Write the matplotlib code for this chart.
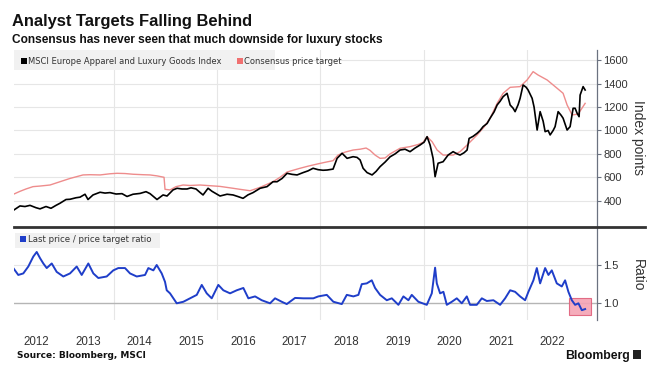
import matplotlib
matplotlib.use("Agg")
import matplotlib.pyplot as plt
from matplotlib.patches import Rectangle
from matplotlib import font_manager as fm

# ---------------- data ----------------
index_years = [2012.064, 2012.180, 2012.277, 2012.374, 2012.490, 2012.568, 2012.684, 2012.781,
               2012.878, 2012.955, 2013.072, 2013.149, 2013.266, 2013.343, 2013.440, 2013.498,
               2013.595, 2013.731, 2013.828, 2013.924, 2014.041, 2014.157, 2014.254, 2014.370,
               2014.506, 2014.622, 2014.700, 2014.835, 2014.952, 2015.029, 2015.145, 2015.223,
               2015.320, 2015.417, 2015.494, 2015.591, 2015.669, 2015.727, 2015.824, 2015.901,
               2016.056, 2016.192, 2016.308, 2016.405, 2016.502, 2016.599, 2016.696, 2016.832,
               2016.967, 2017.083, 2017.161, 2017.258, 2017.355, 2017.452, 2017.549, 2017.665,
               2017.762, 2017.859, 2017.956, 2018.052, 2018.130, 2018.246, 2018.324, 2018.421,
               2018.518, 2018.634, 2018.711, 2018.770, 2018.828, 2018.905, 2019.002, 2019.079,
               2019.157, 2019.254, 2019.351, 2019.448, 2019.545, 2019.641, 2019.738, 2019.835,
               2019.932, 2020.010, 2020.068, 2020.126, 2020.184, 2020.223, 2020.281, 2020.378,
               2020.475, 2020.572, 2020.649, 2020.707, 2020.785, 2020.843, 2020.882, 2020.959,
               2021.037, 2021.095, 2021.153, 2021.231, 2021.289, 2021.367, 2021.425, 2021.483,
               2021.541, 2021.618, 2021.677, 2021.735, 2021.773, 2021.831, 2021.870, 2021.928,
               2021.986, 2022.025, 2022.103, 2022.141, 2022.200, 2022.258, 2022.316, 2022.355,
               2022.413, 2022.452, 2022.510, 2022.548, 2022.607, 2022.665, 2022.703, 2022.781,
               2022.839, 2022.897, 2022.936, 2022.975, 2023.013, 2023.033, 2023.091, 2023.130]
index_values = [321, 355, 350, 360, 340, 330, 350, 335,
                360, 378, 410, 412, 425, 430, 455, 410,
                449, 472, 465, 469, 457, 460, 436, 455,
                462, 477, 460, 410, 449, 440, 492, 506,
                500, 500, 510, 500, 470, 449, 506, 480,
                440, 455, 449, 435, 420, 450, 469, 506,
                520, 562, 562, 590, 634, 625, 620, 640,
                655, 677, 665, 660, 662, 670, 762, 805,
                762, 776, 770, 748, 677, 640, 620, 650,
                691, 730, 775, 800, 833, 840, 819, 850,
                876, 900, 947, 876, 762, 605, 720, 733,
                790, 819, 800, 790, 810, 833, 932, 950,
                976, 1000, 1033, 1060, 1105, 1160, 1218, 1250,
                1289, 1318, 1218, 1190, 1161, 1220, 1275, 1389,
                1370, 1346, 1275, 1200, 1004, 1161, 1080, 990,
                1000, 962, 1000, 1033, 1161, 1130, 1105, 1004,
                1033, 1190, 1190, 1147, 1118, 1303, 1375, 1346]

target_years = [2012.064, 2012.180, 2012.296, 2012.432, 2012.568, 2012.762, 2012.955, 2013.149,
                2013.401, 2013.537, 2013.731, 2013.924, 2014.060, 2014.215, 2014.370, 2014.564,
                2014.700, 2014.835, 2014.971, 2014.990, 2015.087, 2015.204, 2015.339, 2015.475,
                2015.669, 2015.862, 2016.056, 2016.308, 2016.444, 2016.638, 2016.832, 2016.967,
                2017.083, 2017.219, 2017.355, 2017.471, 2017.607, 2017.762, 2017.936, 2018.091,
                2018.246, 2018.343, 2018.479, 2018.634, 2018.770, 2018.886, 2018.963, 2019.060,
                2019.157, 2019.254, 2019.351, 2019.545, 2019.738, 2019.893, 2019.990, 2020.068,
                2020.165, 2020.262, 2020.378, 2020.572, 2020.707, 2020.843, 2021.037, 2021.172,
                2021.289, 2021.425, 2021.541, 2021.677, 2021.773, 2021.870, 2022.006, 2022.122,
                2022.219, 2022.393, 2022.587, 2022.703, 2022.781, 2022.878, 2022.994, 2023.130]
target_values = [457, 480, 500, 520, 525, 534, 562, 590,
                 620, 622, 620, 630, 634, 632, 626, 622,
                 620, 612, 600, 497, 492, 520, 534, 530,
                 534, 528, 522, 506, 497, 485, 514, 540,
                 562, 600, 645, 660, 677, 695, 713, 728,
                 742, 790, 815, 833, 840, 850, 830, 790,
                 762, 765, 800, 848, 862, 880, 899, 947,
                 904, 833, 790, 790, 819, 876, 962, 1030,
                 1105, 1232, 1318, 1369, 1372, 1375, 1432, 1503,
                 1474, 1432, 1361, 1318, 1218, 1133, 1140, 1232]

ratio_years = [2012.050, 2012.147, 2012.244, 2012.341, 2012.438, 2012.504, 2012.568, 2012.632,
               2012.698, 2012.795, 2012.891, 2013.019, 2013.149, 2013.279, 2013.376, 2013.504,
               2013.601, 2013.698, 2013.860, 2013.988, 2014.085, 2014.215, 2014.312, 2014.442,
               2014.603, 2014.667, 2014.764, 2014.829, 2014.926, 2014.990, 2015.023, 2015.087,
               2015.217, 2015.345, 2015.475, 2015.605, 2015.702, 2015.798, 2015.895, 2016.023,
               2016.120, 2016.250, 2016.380, 2016.508, 2016.605, 2016.735, 2016.864, 2017.025,
               2017.122, 2017.252, 2017.349, 2017.510, 2017.671, 2017.864, 2017.961, 2018.124,
               2018.252, 2018.415, 2018.512, 2018.640, 2018.737, 2018.802, 2018.899, 2018.996,
               2019.060, 2019.157, 2019.287, 2019.384, 2019.512, 2019.609, 2019.706, 2019.771,
               2019.899, 2020.062, 2020.159, 2020.223, 2020.256, 2020.320, 2020.384, 2020.450,
               2020.547, 2020.643, 2020.740, 2020.837, 2020.901, 2021.031, 2021.128, 2021.225,
               2021.353, 2021.483, 2021.580, 2021.677, 2021.773, 2021.870, 2021.967, 2022.031,
               2022.128, 2022.194, 2022.258, 2022.355, 2022.419, 2022.484, 2022.581, 2022.678,
               2022.742, 2022.806, 2022.872, 2022.936, 2023.000, 2023.066, 2023.130]
ratio_values = [1.46, 1.37, 1.39, 1.48, 1.61, 1.67, 1.59, 1.52,
                1.46, 1.52, 1.41, 1.35, 1.39, 1.48, 1.37, 1.52,
                1.39, 1.33, 1.35, 1.43, 1.46, 1.46, 1.39, 1.35,
                1.37, 1.46, 1.43, 1.50, 1.39, 1.28, 1.17, 1.13,
                1.00, 1.02, 1.065, 1.11, 1.24, 1.13, 1.065, 1.24,
                1.17, 1.13, 1.17, 1.20, 1.065, 1.09, 1.04, 1.00,
                1.065, 1.02, 0.99, 1.07, 1.065, 1.065, 1.09, 1.11,
                1.02, 0.99, 1.11, 1.09, 1.11, 1.25, 1.26, 1.30,
                1.20, 1.11, 1.04, 1.065, 0.98, 1.09, 1.04, 1.11,
                1.02, 0.98, 1.13, 1.465, 1.26, 1.13, 1.15, 0.98,
                1.02, 1.065, 1.00, 1.09, 0.98, 0.98, 1.065, 1.03,
                1.04, 0.98, 1.065, 1.17, 1.15, 1.09, 1.04, 1.15,
                1.30, 1.46, 1.26, 1.46, 1.37, 1.43, 1.26, 1.22,
                1.30, 1.15, 1.04, 0.98, 1.00, 0.91, 0.925]

year_labels = ["2012", "2013", "2014", "2015", "2016", "2017", "2018", "2019", "2020", "2021", "2022"]
index_ticks = [400, 600, 800, 1000, 1200, 1400, 1600]
ratio_ticks = [1.0, 1.5]
highlight_x = (2022.82, 2023.24)
highlight_y = (0.85, 1.07)

# ---------------- fonts ----------------
def has_font(name):
    try:
        fm.findfont(fm.FontProperties(family=name), fallback_to_default=False)
        return True
    except Exception:
        return False

NARROW = has_font("Liberation Sans Narrow")
TFONT = "Liberation Sans Narrow" if NARROW else "Liberation Sans"
SANS = "Liberation Sans"

W, H = 660, 369
def fx(x): return x / W
def fy(y): return 1 - y / H

fig = plt.figure(figsize=(6.6, 3.69), dpi=100)
fig.patch.set_facecolor("white")

xl = (2012.064, 2023.36)
ax1 = fig.add_axes([fx(14), fy(227), (597 - 14) / W, (227 - 50) / H])
ax2 = fig.add_axes([fx(14), fy(320), (597 - 14) / W, (320 - 227) / H])

grid_c = "#e6e6e6"
axis_c = "#6b7280"
for ax in (ax1, ax2):
    ax.set_xlim(*xl)
    for s in ("left", "top", "bottom"):
        ax.spines[s].set_visible(False)
    ax.spines["right"].set_color(axis_c)
    ax.spines["right"].set_linewidth(0.9)
    ax.yaxis.tick_right()
    ax.tick_params(axis="y", direction="out", length=3, width=0.8, color=axis_c,
                   labelsize=8, labelcolor="#333333", pad=1.5)
    for yr in (2014, 2016, 2018, 2020, 2022):
        ax.axvline(yr, color=grid_c, lw=0.8, zorder=0)

# top panel
ax1.set_ylim(175, 1688)
ax1.set_yticks(index_ticks)
ax1.set_yticklabels([str(v) for v in index_ticks], fontfamily=SANS)
for v in index_ticks:
    ax1.axhline(v, color=grid_c, lw=0.8, zorder=0)
ax1.set_xticks([])
ax1.plot(target_years, target_values, color="#ee8c8c", lw=1.0, zorder=2)
ax1.plot(index_years, index_values, color="#000000", lw=1.2, zorder=3)

# bottom panel
ax2.set_ylim(0.782, 1.996)
ax2.set_yticks(ratio_ticks)
ax2.set_yticklabels(["1.0", "1.5"], fontfamily=SANS)
ax2.axhline(1.5, color=grid_c, lw=0.8, zorder=0)
ax2.axhline(1.0, color="#b5b5b5", lw=1.0, zorder=1)
ax2.add_patch(Rectangle((highlight_x[0], highlight_y[0]), highlight_x[1] - highlight_x[0],
                        highlight_y[1] - highlight_y[0], facecolor="#f4a3b4",
                        edgecolor="#e0607a", lw=0.8, alpha=0.9, zorder=1))
ax2.plot(ratio_years, ratio_values, color="#1f3ec9", lw=1.4, zorder=3)
ax2.set_xticks([int(y) + 0.5 for y in year_labels])
ax2.set_xticklabels(year_labels, fontfamily=SANS, fontsize=8.3, color="#333333")
ax2.tick_params(axis="x", length=0, pad=11.5)

# separator line
fig.add_artist(plt.Line2D([fx(14), fx(645)], [fy(227), fy(227)], color="#333333",
                          lw=2.0, transform=fig.transFigure))

# axis titles
fig.text(fx(638), fy(138), "Index points", rotation=270, ha="center", va="center",
         fontsize=10, family=SANS, color="#333333")
fig.text(fx(638), fy(275), "Ratio", rotation=270, ha="center", va="center",
         fontsize=10, family=SANS, color="#333333")

# legends
fig.add_artist(Rectangle((fx(14), fy(70)), (275 - 14) / W, 20 / H, facecolor="#f1f1f1",
                         edgecolor="none", transform=fig.transFigure, zorder=4))
fig.add_artist(Rectangle((fx(21), fy(64)), 6 / W, 6 / H, facecolor="#000000",
                         edgecolor="none", transform=fig.transFigure, zorder=5))
fig.text(fx(28), fy(61), "MSCI Europe Apparel and Luxury Goods Index", fontsize=6,
         va="center", ha="left", color="#333333", zorder=6)
fig.add_artist(Rectangle((fx(237), fy(64)), 6 / W, 6 / H, facecolor="#f07070",
                         edgecolor="none", transform=fig.transFigure, zorder=5))
fig.text(fx(244), fy(61), "Consensus price target", fontsize=6,
         va="center", ha="left", color="#333333", zorder=6)

fig.add_artist(Rectangle((fx(15), fy(248)), (160 - 15) / W, 15 / H, facecolor="#f1f1f1",
                         edgecolor="none", transform=fig.transFigure, zorder=4))
fig.add_artist(Rectangle((fx(20), fy(242)), 6 / W, 6 / H, facecolor="#1f3ec9",
                         edgecolor="none", transform=fig.transFigure, zorder=5))
fig.text(fx(28), fy(239.5), "Last price / price target ratio", fontsize=6.2,
         va="center", ha="left", color="#333333", zorder=6)

# titles
if NARROW:
    ts, ss = 14.0, 10.5
else:
    ts, ss = 11.9, 8.6
fig.text(fx(12), fy(26), "Analyst Targets Falling Behind", fontsize=ts, fontweight="bold",
         family=TFONT, va="baseline", ha="left", color="#111111")
fig.text(fx(12), fy(42.5), "Consensus has never seen that much downside for luxury stocks",
         fontsize=ss, fontweight="bold", family=TFONT, va="baseline", ha="left", color="#111111")

# footer
fig.text(fx(17), fy(358), "Source: Bloomberg, MSCI", fontsize=6.5, fontweight="bold",
         va="baseline", ha="left", color="#111111")
fig.text(fx(630), fy(358.5), "Bloomberg", fontsize=8.8, fontweight="bold",
         family=TFONT if NARROW else SANS, va="baseline", ha="right", color="#111111")
fig.add_artist(Rectangle((fx(633), fy(358.5)), 8 / W, 9 / H, facecolor="#222222",
                         edgecolor="none", transform=fig.transFigure))

fig.savefig("out.png", dpi=100)
